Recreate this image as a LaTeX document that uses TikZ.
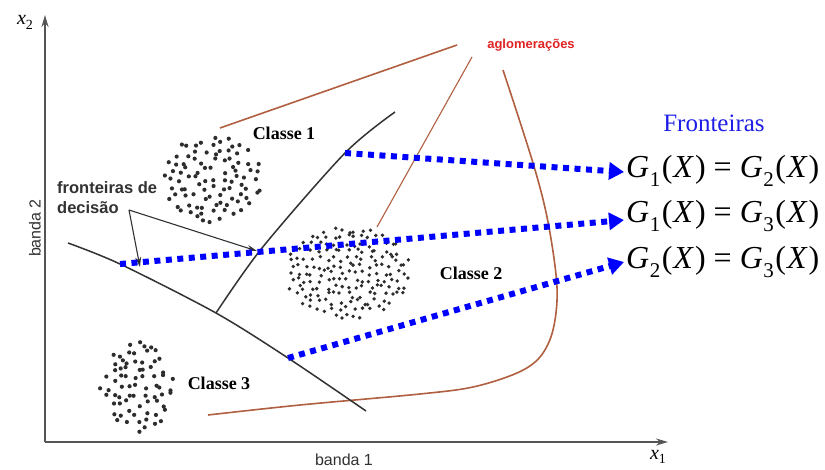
\documentclass[tikz,border=0pt]{standalone}
\usepackage{fontspec}
\setmainfont{Liberation Serif}
\setsansfont{Liberation Sans}
\usetikzlibrary{arrows.meta}
\definecolor{aglo}{RGB}{176,96,64}
\definecolor{bnd}{RGB}{50,50,50}
\definecolor{axc}{RGB}{85,85,85}
\definecolor{agred}{RGB}{225,35,35}
\definecolor{dotc}{RGB}{45,45,45}
\newcommand\Geq[2]{\textit{G}\kern0.5pt\raisebox{-0.3em}{\fontsize{21}{21}\selectfont #1}\kern1.5pt(\kern1pt\textit{X}\kern1pt)\kern0.25em=\kern0.25em\textit{G}\kern0.5pt\raisebox{-0.3em}{\fontsize{21}{21}\selectfont #2}\kern1.5pt(\kern1pt\textit{X}\kern1pt)}
\newcommand\cluster[6]{% cx cy rx ry spacing radius
  \foreach \gx in {-9,...,9}{
    \foreach \gy in {-9,...,9}{
      \pgfmathsetmacro\px{\gx*#5+0.42*#5*rand}
      \pgfmathsetmacro\py{\gy*#5+0.42*#5*rand}
      \pgfmathtruncatemacro\inside{((\px*\px)/(#3*#3)+(\py*\py)/(#4*#4)<1)?1:0}
      \ifnum\inside=1 \fill[dotc] ({#1+\px},{#2+\py}) circle (#6); \fi
    }
  }%
}
\tikzset{
  axisline/.style={draw=axc, line width=2pt, -{Stealth[length=12pt,width=7pt]}},
  agloline/.style={draw=aglo, line width=1.6pt},
  agloline thin/.style={draw=aglo, line width=1.1pt},
  bound/.style={draw=bnd, line width=1.5pt},
  pointer/.style={draw=bnd, line width=1.1pt, -{Stealth[length=10pt,width=6pt]}},
  dotarrow/.style={draw=blue, line width=6pt, dash pattern=on 6pt off 5.5pt, -{Triangle[length=15pt,width=17pt]}},
  classlbl/.style={font=\bfseries\fontsize{18}{20}\selectfont, inner sep=0pt},
  sanslbl/.style={font=\sffamily\fontsize{16}{18}\selectfont, text=bnd, inner sep=0pt},
  eqlbl/.style={font=\fontsize{32}{35}\selectfont, anchor=west, inner sep=2pt},
}
\begin{document}
\begin{tikzpicture}[x=1pt,y=-1pt]
\useasboundingbox (0,0) rectangle (825,469);
\fill[white] (0,0) rectangle (825,469);

% axes
\coordinate (O) at (45,442);
\coordinate (Ytop) at (45,15);
\coordinate (Xend) at (668,442);
\draw[axisline] (O) -- (Ytop);
\draw[axisline] (O) -- (Xend);
\node[font=\fontsize{20}{22}\selectfont, inner sep=0pt] (x2) at (25,22) {\textit{x}\raisebox{-0.25em}{\fontsize{14}{14}\selectfont 2}};
\node[font=\fontsize{20}{22}\selectfont, inner sep=0pt] (x1) at (658,457) {\textit{x}\raisebox{-0.2em}{\fontsize{14}{14}\selectfont 1}};
\node[sanslbl, rotate=90] (b2) at (35,228) {banda 2};
\node[sanslbl] (b1) at (344,460) {banda 1};

% point clusters
\pgfmathsetseed{11}
\cluster{213}{179}{50}{44}{8.6}{2.1pt}
\cluster{348}{273}{63}{46}{7.2}{1.9pt}
\cluster{137}{387}{37}{45}{8.4}{2.1pt}

% aglomeracoes (brown)
\node[font=\sffamily\bfseries\fontsize{13}{15}\selectfont, text=agred, inner sep=0pt] (aglo) at (531,45) {aglomerações};
\coordinate (a1s) at (220,128);
\coordinate (a1e) at (457,45);
\draw[agloline] (a1s) -- (a1e);
\coordinate (a2s) at (472,57);
\coordinate (a2e) at (377,227);
\draw[agloline thin] (a2s) -- (a2e);
\draw[agloline] plot[smooth, tension=0.55] coordinates {(503,70) (533,163) (548,222) (557,287) (553,330) (540,357) (517,373) (473,387) (420,394) (300,405) (208,415)};

% decision boundaries
\coordinate (s1) at (345,153);
\coordinate (s2) at (120,264);
\coordinate (s3) at (288,358);
\coordinate (jn) at (216,313);
\draw[bound] plot[smooth, tension=0.5] coordinates {(395,112) (s1) (262,248) (jn)};
\draw[bound] plot[smooth, tension=0.5] coordinates {(68,243) (s2) (jn) (s3) (366,411)};

% labels
\node[classlbl] (c1) at (284,133) {Classe 1};
\node[classlbl] (c2) at (471,273) {Classe 2};
\node[classlbl] (c3) at (219,383) {Classe 3};
\node[font=\sffamily\bfseries\fontsize{16.5}{20}\selectfont, text=bnd, align=left, anchor=north west, inner sep=0pt] (fd) at (57,181) {fronteiras de\\decisão};
\coordinate (pv) at (129,210);
\coordinate (p1) at (140,267);
\coordinate (p2) at (257,251);
\draw[pointer] (pv) -- (p1);
\draw[pointer] (pv) -- (p2);

% right side
\node[font=\fontsize{25}{28}\selectfont, text={rgb,255:red,30;green,30;blue,230}, inner sep=0pt] (fr) at (714,123) {Fronteiras};
\node[eqlbl] (eq1) at (624,171) {\Geq{1}{2}};
\node[eqlbl] (eq2) at (624,216) {\Geq{1}{3}};
\node[eqlbl] (eq3) at (624,262) {\Geq{2}{3}};

\draw[dotarrow] (s1) -- ([yshift=-1pt]eq1.west);
\draw[dotarrow] (s2) -- ([yshift=-4pt]eq2.west);
\draw[dotarrow] (s3) -- ([yshift=0pt]eq3.west);
\end{tikzpicture}
\end{document}
